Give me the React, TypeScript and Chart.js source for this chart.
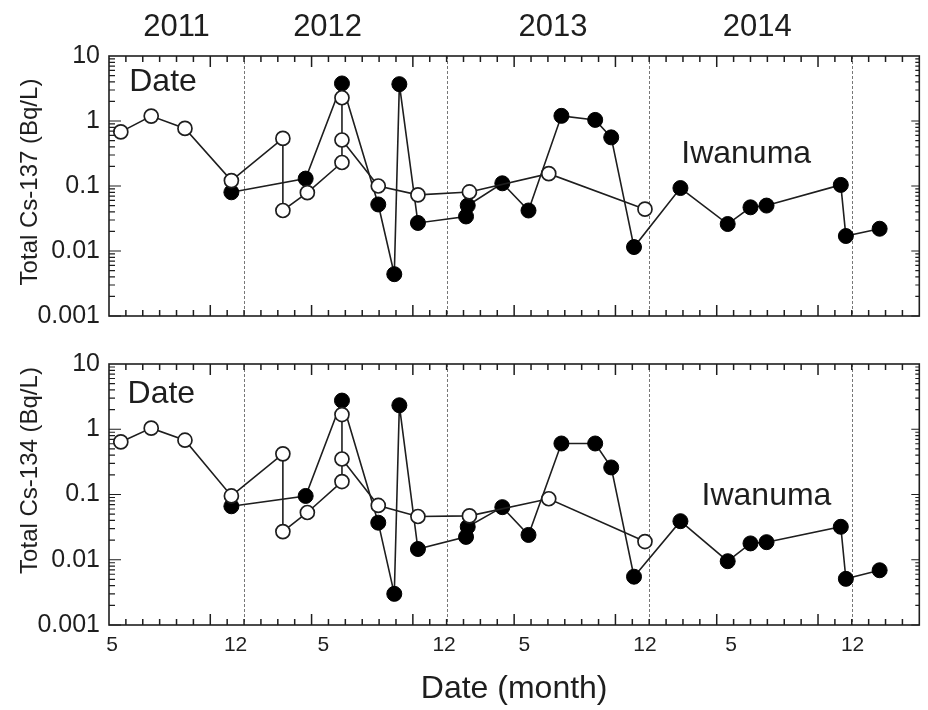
import { useEffect, useRef } from "react";
import { Chart, registerables } from "chart.js";

Chart.register(...registerables);

// Sampling dates, in months counted from 1 May 2011
const dateMonths = [0.7, 2.5, 4.5, 7.25, 10.3, 10.3, 11.75, 13.8, 13.8, 13.8, 15.95, 18.3, 21.35, 26.05, 31.75];
const dateCs137 = [0.68, 1.19, 0.77, 0.121, 0.54, 0.042, 0.079, 0.23, 2.28, 0.51, 0.1, 0.073, 0.081, 0.155, 0.044];
const dateCs134 = [0.64, 1.04, 0.68, 0.095, 0.42, 0.027, 0.053, 0.158, 1.68, 0.35, 0.068, 0.046, 0.047, 0.086, 0.019];

const iwanumaMonths = [7.25, 11.65, 13.8, 15.95, 16.9, 17.2, 18.3, 21.15, 21.25, 23.3, 24.85, 26.8, 28.8, 29.75, 31.1, 33.85, 36.65, 38.0, 38.95, 43.35, 43.65, 45.65];
const iwanumaCs137 = [0.08, 0.13, 3.78, 0.052, 0.0044, 3.69, 0.027, 0.034, 0.05, 0.11, 0.042, 1.2, 1.04, 0.56, 0.0115, 0.093, 0.026, 0.047, 0.05, 0.104, 0.017, 0.022];
const iwanumaCs134 = [0.066, 0.095, 2.75, 0.037, 0.003, 2.33, 0.0146, 0.0224, 0.032, 0.064, 0.024, 0.605, 0.605, 0.26, 0.0055, 0.039, 0.0095, 0.0178, 0.0186, 0.032, 0.0051, 0.0069];

// Calendar annotations (month units on the same axis)
const years = ["2011", "2012", "2013", "2014"];
const yearLabelAt = [4.0, 12.95, 26.3, 38.4];
const yearStarts = [8, 20, 32, 44];
const monthLabels = ["5", "12", "5", "12", "5", "12", "5", "12"];
const monthLabelAt = [0.18, 7.5, 12.7, 19.85, 24.6, 31.75, 36.85, 44.05];
const concentrationTicks = [0.001, 0.01, 0.1, 1, 10];

const X_MIN = 0;
const X_MAX = 48;
const FONT = '"Liberation Sans", Arial, Helvetica, sans-serif';
const INK = "#1e1e1e";

type Note = { text: string; x: number; y: number };
type FrameOpts = {
  yTitle: string;
  yTitleShift: number;
  showYears: boolean;
  notes: Note[];
};

const framePlugin = {
  id: "frame",
  beforeDatasetsDraw(chart: any) {
    const { ctx, chartArea: a, scales } = chart;
    ctx.save();
    ctx.strokeStyle = "#777";
    ctx.lineWidth = 1;
    ctx.setLineDash([3, 2]);
    yearStarts.forEach((m) => {
      const px = Math.round(scales.x.getPixelForValue(m)) + 0.5;
      ctx.beginPath();
      ctx.moveTo(px, a.top);
      ctx.lineTo(px, a.bottom);
      ctx.stroke();
    });
    ctx.restore();
  },
  afterDatasetsDraw(chart: any) {
    const { ctx, chartArea: a, scales } = chart;
    ctx.save();
    ctx.strokeStyle = INK;
    ctx.lineWidth = 1.5;
    ctx.setLineDash([]);
    // inward month ticks on top and bottom edges
    for (let k = X_MIN + 1; k < X_MAX; k++) {
      const px = scales.x.getPixelForValue(k);
      const len = k % 6 === 0 ? 11 : 6;
      ctx.beginPath();
      ctx.moveTo(px, a.bottom);
      ctx.lineTo(px, a.bottom - len);
      ctx.moveTo(px, a.top);
      ctx.lineTo(px, a.top + len);
      ctx.stroke();
    }
    // inward logarithmic ticks on left and right edges
    ctx.lineWidth = 1.2;
    for (let d = -3; d <= 0; d++) {
      for (let m = 1; m <= 9; m++) {
        const py = scales.y.getPixelForValue(m * Math.pow(10, d));
        const major = m === 1;
        ctx.beginPath();
        ctx.moveTo(a.left, py);
        ctx.lineTo(a.left + (major ? 12 : 6), py);
        ctx.moveTo(a.right, py);
        ctx.lineTo(a.right - (major ? 8 : 4), py);
        ctx.stroke();
      }
    }
    ctx.lineWidth = 1.6;
    ctx.strokeRect(a.left, a.top, a.right - a.left, a.bottom - a.top);
    ctx.restore();
  },
  afterDraw(chart: any, _args: any, opts: FrameOpts) {
    const { ctx, chartArea: a, scales } = chart;
    ctx.save();
    ctx.fillStyle = INK;
    ctx.textBaseline = "middle";

    if (opts.showYears) {
      ctx.font = `31px ${FONT}`;
      ctx.textAlign = "center";
      years.forEach((y, i) => {
        ctx.fillText(y, scales.x.getPixelForValue(yearLabelAt[i]), a.top - 29);
      });
    }

    ctx.font = `32px ${FONT}`;
    ctx.textAlign = "left";
    opts.notes.forEach((n) => {
      ctx.fillText(n.text, scales.x.getPixelForValue(n.x), scales.y.getPixelForValue(n.y));
    });

    ctx.font = `24px ${FONT}`;
    ctx.textAlign = "center";
    ctx.translate(30, (a.top + a.bottom) / 2 + opts.yTitleShift);
    ctx.rotate(-Math.PI / 2);
    ctx.fillText(opts.yTitle, 0, 0);
    ctx.restore();
  },
};

type PanelProps = {
  top: number;
  height: number;
  padTop: number;
  padBottom: number;
  showXAxis: boolean;
  dateValues: number[];
  iwanumaValues: number[];
  frame: FrameOpts;
};

function Panel(props: PanelProps) {
  const ref = useRef<HTMLCanvasElement | null>(null);

  useEffect(() => {
    if (!ref.current) return;
    const chart = new Chart(ref.current, {
      type: "line",
      data: {
        datasets: [
          {
            label: "Date",
            data: dateMonths.map((m, i) => ({ x: m, y: props.dateValues[i] })),
            borderColor: INK,
            borderWidth: 1.6,
            backgroundColor: "#ffffff",
            pointBackgroundColor: "#ffffff",
            pointBorderColor: INK,
            pointBorderWidth: 1.7,
            pointRadius: 7,
            tension: 0,
          },
          {
            label: "Iwanuma",
            data: iwanumaMonths.map((m, i) => ({ x: m, y: props.iwanumaValues[i] })),
            borderColor: INK,
            borderWidth: 1.6,
            backgroundColor: "#000000",
            pointBackgroundColor: "#000000",
            pointBorderColor: "#000000",
            pointBorderWidth: 1,
            pointRadius: 7.5,
            tension: 0,
          },
        ],
      },
      options: {
        responsive: false,
        animation: false,
        events: [],
        layout: { padding: { top: props.padTop, bottom: props.padBottom, left: 0, right: 2 } },
        plugins: {
          legend: { display: false },
          tooltip: { enabled: false },
          frame: props.frame,
        } as any,
        scales: {
          x: {
            type: "linear",
            min: X_MIN,
            max: X_MAX,
            display: props.showXAxis,
            grid: { display: false, drawTicks: false },
            border: { display: false },
            afterBuildTicks: (s: any) => {
              s.ticks = monthLabelAt.map((v) => ({ value: v }));
            },
            afterFit: (s: any) => {
              s.height = props.showXAxis ? 85 : 0;
            },
            ticks: {
              autoSkip: false,
              maxRotation: 0,
              padding: 8,
              color: INK,
              font: { family: FONT, size: 21 },
              callback: (_v: any, i: number) => monthLabels[i],
            },
            title: {
              display: true,
              text: "Date (month)",
              color: INK,
              font: { family: FONT, size: 32 },
              padding: { top: 0, bottom: 2 },
            },
          },
          y: {
            type: "logarithmic",
            min: 0.001,
            max: 10,
            grid: { display: false, drawTicks: false },
            border: { display: false },
            afterBuildTicks: (s: any) => {
              s.ticks = concentrationTicks.map((v) => ({ value: v }));
            },
            afterFit: (s: any) => {
              s.width = 109;
            },
            ticks: {
              padding: 9,
              color: INK,
              font: { family: FONT, size: 25 },
              callback: (v: any) => String(v),
            },
          },
        },
      },
      plugins: [framePlugin],
    } as any);
    return () => chart.destroy();
  }, []);

  return (
    <canvas
      ref={ref}
      width={928}
      height={props.height}
      style={{ position: "absolute", left: 0, top: props.top, width: 928, height: props.height }}
    />
  );
}

export default function App() {
  return (
    <div style={{ position: "absolute", left: 0, top: 0, width: 928, height: 710, background: "#fff" }}>
      <Panel
        top={0}
        height={340}
        padTop={56}
        padBottom={10}
        showXAxis={false}
        dateValues={dateCs137}
        iwanumaValues={iwanumaCs137}
        frame={{
          yTitle: "Total Cs-137 (Bq/L)",
          yTitleShift: -4,
          showYears: true,
          notes: [
            { text: "Date", x: 1.2, y: 3.9 },
            { text: "Iwanuma", x: 33.9, y: 0.31 },
          ],
        }}
      />
      <Panel
        top={340}
        height={370}
        padTop={11}
        padBottom={0}
        showXAxis={true}
        dateValues={dateCs134}
        iwanumaValues={iwanumaCs134}
        frame={{
          yTitle: "Total Cs-134 (Bq/L)",
          yTitleShift: -24,
          showYears: false,
          notes: [
            { text: "Date", x: 1.1, y: 3.4 },
            { text: "Iwanuma", x: 35.1, y: 0.093 },
          ],
        }}
      />
    </div>
  );
}
